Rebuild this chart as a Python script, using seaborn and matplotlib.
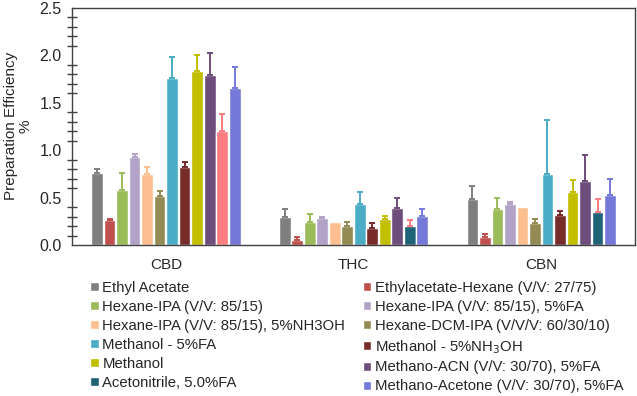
import numpy as np
import pandas as pd
import seaborn as sns
import matplotlib.pyplot as plt
from matplotlib.ticker import MultipleLocator
from matplotlib.patches import Patch

# Data
compounds = ['CBD', 'THC', 'CBN']
solvents = ['Ethyl Acetate', 'Ethylacetate-Hexane (V/V: 27/75)',
            'Hexane-IPA (V/V: 85/15)', 'Hexane-IPA (V/V: 85/15), 5%FA',
            'Hexane-IPA (V/V: 85/15), 5%NH3OH', 'Hexane-DCM-IPA (V/V/V: 60/30/10)',
            'Methanol - 5%FA', 'Methanol - 5%NH$_3$OH',
            'Methanol', 'Methano-ACN (V/V: 30/70), 5%FA',
            'Acetonitrile, 5.0%FA', 'Methano-Acetone (V/V: 30/70), 5%FA']
cbd = [0.76, 0.26, 0.58, 0.93, 0.75, 0.52, 1.76, 0.82, 1.835, 1.79, 1.20, 1.655]
thc = [0.30, 0.055, 0.24, 0.284, 0.24, 0.20, 0.435, 0.175, 0.28, 0.386, 0.203, 0.31]
cbn = [0.49, 0.09, 0.375, 0.435, 0.40, 0.232, 0.745, 0.32, 0.56, 0.675, 0.347, 0.525]
cbd_err = [0.04, 0.015, 0.18, 0.03, 0.07, 0.05, 0.22, 0.05, 0.165, 0.23, 0.18, 0.22]
thc_err = [0.085, 0.03, 0.09, 0.01, 0.0, 0.045, 0.125, 0.053, 0.03, 0.115, 0.057, 0.067]
cbn_err = [0.135, 0.03, 0.125, 0.02, 0.0, 0.04, 0.575, 0.04, 0.12, 0.27, 0.137, 0.17]

colors = ['#7F7F7F', '#C0504D', '#9BBB59', '#B3A2C7', '#FDBF8F', '#948A54',
          '#4BACC6', '#772C2A', '#C2BE00', '#6E4C7B', '#1F6377', '#7478D8']
err_colors = list(colors)
err_colors[10] = '#FF7C80'
pink = '#FF7C80'

rows = []
for s, a, b, c in zip(solvents, cbd, thc, cbn):
    rows += [(s, 'CBD', a), (s, 'THC', b), (s, 'CBN', c)]
df = pd.DataFrame(rows, columns=['solvent', 'compound', 'value'])
errs = {s: [a, b, c] for s, a, b, c in zip(solvents, cbd_err, thc_err, cbn_err)}

sns.set_style('white')
plt.rcParams['font.family'] = ['Liberation Sans', 'DejaVu Sans']

fig = plt.figure(figsize=(6.37, 3.96), dpi=100)
ax = fig.add_axes([0.113, 0.381, 0.884, 0.6])

sns.barplot(data=df, x='compound', y='value', hue='solvent', order=compounds,
            hue_order=solvents, palette=colors, errorbar=None, width=0.8,
            gap=0.06, saturation=1, legend=False, ax=ax)

for i, (cont, s) in enumerate(zip(ax.containers, solvents)):
    for j, bar in enumerate(cont):
        x = bar.get_x() + bar.get_width() / 2
        h = bar.get_height()
        ec = err_colors[i]
        if i == 10 and j == 0:
            bar.set_facecolor(pink)
        if errs[s][j] > 0:
            ax.errorbar(x, h, yerr=[[0], [errs[s][j]]], color=ec, lw=1.4,
                        capsize=2.5, capthick=1.4)

ax.set_ylim(0, 2.5)
ax.set_xlim(-0.5, 2.5)
ax.yaxis.set_major_locator(MultipleLocator(0.5))
ax.yaxis.set_minor_locator(MultipleLocator(0.1))
ax.yaxis.set_major_formatter(plt.FormatStrFormatter('%.1f'))
ax.tick_params(axis='y', which='major', direction='inout', length=9, width=1,
               labelsize=11.5, color='#404040', pad=3)
ax.tick_params(axis='y', which='minor', direction='inout', length=7, width=1,
               color='#404040', left=True)
ax.tick_params(axis='x', length=0, labelsize=11, pad=9)
for sp in ax.spines.values():
    sp.set_visible(True)
    sp.set_color('#404040')
    sp.set_linewidth(1)
ax.set_xlabel('')
ax.set_ylabel('Preparation Efficiency\n%', fontsize=11, labelpad=5,
              linespacing=1.0)

# legend in row-major order, 2 columns
handles = [Patch(facecolor=c) for c in colors]
order = list(range(0, 12, 2)) + list(range(1, 12, 2))
fig.legend([handles[k] for k in order], [solvents[k] for k in order],
           ncol=2, loc='upper left', bbox_to_anchor=(0.142, 0.29),
           frameon=False, fontsize=10.7, handlelength=0.55, handleheight=0.55,
           handletextpad=0.25, columnspacing=1.2, labelspacing=0.33,
           borderpad=0, borderaxespad=0)

fig.savefig('out.png', dpi=100)
